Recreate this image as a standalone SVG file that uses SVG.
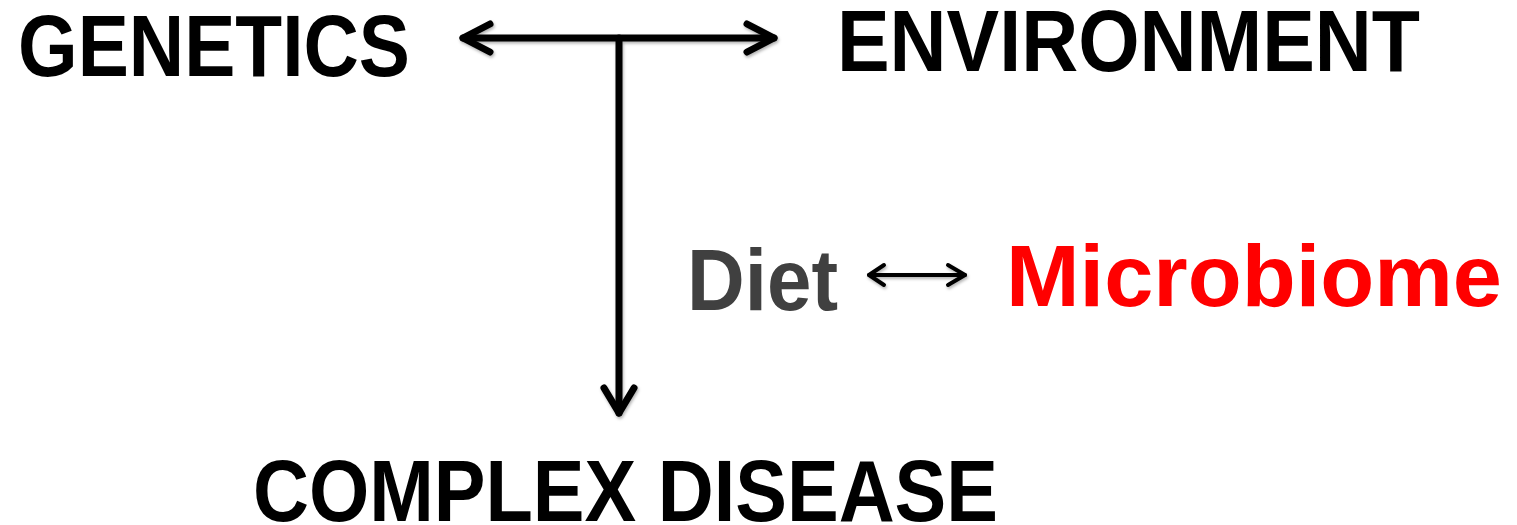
<svg xmlns="http://www.w3.org/2000/svg" width="1517" height="525" viewBox="0 0 1517 525">
  <style>
    .lbl { font-family: "Liberation Sans", Arial, sans-serif; font-weight: bold; font-size: 88px; }
    .black { fill: #000000; }
    .gray { fill: #404040; }
    .red { fill: #ff0000; }
    .conn { fill: none; stroke: #000000; stroke-linecap: round; stroke-linejoin: round; }
    .thick { stroke-width: 7; }
    .thin { stroke-width: 4; }
  </style>
  <defs>
    <filter id="shadow" x="-10%" y="-10%" width="120%" height="130%">
      <feDropShadow dx="1" dy="2" stdDeviation="1.5" flood-color="#000000" flood-opacity="0.3"/>
    </filter>
  </defs>
  <rect x="0" y="0" width="1517" height="525" fill="#ffffff"/>

  <g id="connectors" filter="url(#shadow)">
    <g id="conn-genetics-environment">
      <line class="conn thick" x1="463" y1="38" x2="774" y2="38"/>
      <polyline class="conn thick" points="490,24 463,38 490,52"/>
      <polyline class="conn thick" points="747,24 774,38 747,52"/>
    </g>
    <g id="conn-to-complex-disease">
      <line class="conn thick" x1="619" y1="38" x2="619" y2="413"/>
      <polyline class="conn thick" points="604,388 619,413 634,388"/>
    </g>
    <g id="conn-diet-microbiome">
      <line class="conn thin" x1="869" y1="275" x2="965" y2="275"/>
      <polyline class="conn thin" points="884,265 869,275 884,285"/>
      <polyline class="conn thin" points="948,265 965,275 948,285"/>
    </g>
  </g>

  <g id="node-genetics">
    <text class="lbl black" x="18" y="76" textLength="392" lengthAdjust="spacingAndGlyphs">GENETICS</text>
  </g>
  <g id="node-environment">
    <text class="lbl black" x="837" y="71" textLength="583" lengthAdjust="spacingAndGlyphs">ENVIRONMENT</text>
  </g>
  <g id="node-diet">
    <text class="lbl gray" x="687" y="310" textLength="151" lengthAdjust="spacingAndGlyphs">Diet</text>
  </g>
  <g id="node-microbiome">
    <text class="lbl red" x="1006" y="306" textLength="496" lengthAdjust="spacingAndGlyphs">Microbiome</text>
  </g>
  <g id="node-complex-disease">
    <text class="lbl black" x="253" y="521" textLength="745" lengthAdjust="spacingAndGlyphs">COMPLEX DISEASE</text>
  </g>
</svg>
